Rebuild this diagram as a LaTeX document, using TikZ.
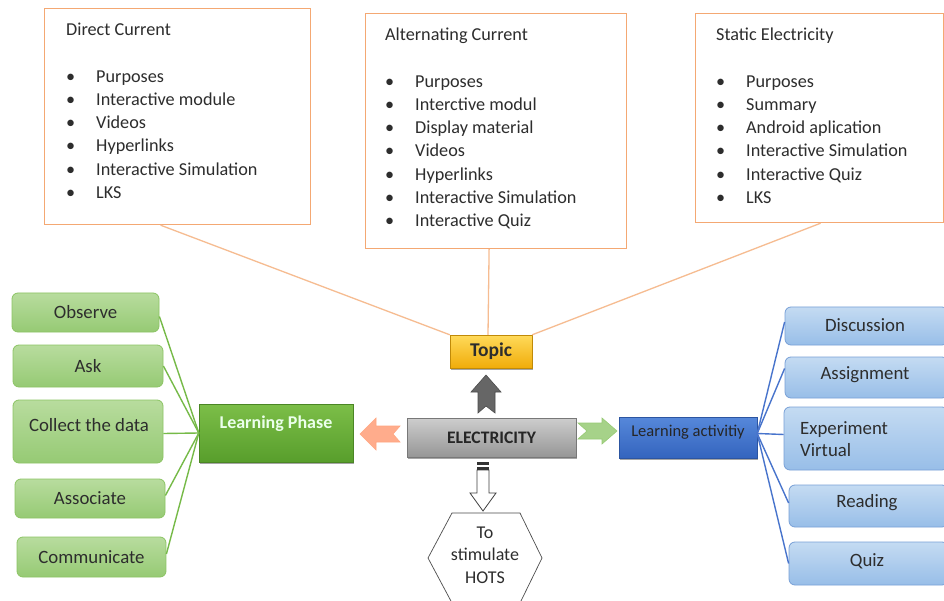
\documentclass[tikz,border=0pt]{standalone}
\usepackage{fontspec}
\setmainfont{Carlito}
\usetikzlibrary{shadows,calc}
\definecolor{txt}{RGB}{45,45,45}
\definecolor{obord}{RGB}{244,168,115}
\definecolor{oline}{RGB}{246,188,145}
\definecolor{gtop}{RGB}{184,220,158}
\definecolor{gbot}{RGB}{150,202,116}
\definecolor{gbord}{RGB}{140,196,100}
\definecolor{gline}{RGB}{118,186,72}
\definecolor{lptop}{RGB}{124,190,72}
\definecolor{lpbot}{RGB}{88,158,44}
\definecolor{btop}{RGB}{196,219,242}
\definecolor{bbot}{RGB}{152,190,232}
\definecolor{bbord}{RGB}{120,160,215}
\definecolor{bline}{RGB}{72,116,204}
\definecolor{latop}{RGB}{86,136,218}
\definecolor{labot}{RGB}{52,100,190}
\definecolor{tptop}{RGB}{255,218,90}
\definecolor{tpbot}{RGB}{240,172,10}
\definecolor{eltop}{RGB}{205,205,205}
\definecolor{elbot}{RGB}{150,150,150}
\newcommand{\bul}{\makebox[30pt][l]{\textbullet}}
\begin{document}
\begin{tikzpicture}[x=1pt,y=-1pt,
  topbox/.style={draw=obord, line width=1.2pt, fill=white, anchor=north west, inner sep=0pt},
  listtext/.style={anchor=north west, inner sep=0pt, text=txt, font=\fontsize{18.2}{23.2}\selectfont},
  gbox/.style={draw=gbord, line width=0.8pt, rounded corners=6pt, top color=gtop, bottom color=gbot, text=txt, font=\fontsize{18.8}{21}\selectfont, inner sep=0pt},
  bbox/.style={draw=bbord, line width=0.8pt, rounded corners=6pt, top color=btop, bottom color=bbot, text=txt, font=\fontsize{18.8}{21}\selectfont, inner sep=0pt},
  lbl/.style={inner sep=0pt, text=txt, font=\fontsize{18.8}{21}\selectfont},
  shad/.style={drop shadow={shadow xshift=1pt, shadow yshift=-2pt, opacity=0.35, fill=black}},
  oconn/.style={draw=oline, line width=1.3pt},
  gconn/.style={draw=gline, line width=1.4pt},
  bconn/.style={draw=bline, line width=1.4pt}
]
\clip (0,0) rectangle (944,601);
\fill[white] (0,0) rectangle (944,601);

% top boxes
\node[topbox, minimum width=266pt, minimum height=216pt] (dc) at (44,8) {};
\node[topbox, minimum width=261pt, minimum height=235pt] (ac) at (365,13) {};
\node[topbox, minimum width=248pt, minimum height=209pt] (se) at (695,13) {};

\node[listtext] (dcl) at (66,19.5) {\begin{tabular}{@{}l@{}}
Direct Current\\ \\
\bul Purposes\\
\bul Interactive module\\
\bul Videos\\
\bul Hyperlinks\\
\bul Interactive Simulation\\
\bul LKS
\end{tabular}};
\node[listtext] (acl) at (385,24.5) {\begin{tabular}{@{}l@{}}
Alternating Current\\ \\
\bul Purposes\\
\bul Interctive modul\\
\bul Display material\\
\bul Videos\\
\bul Hyperlinks\\
\bul Interactive Simulation\\
\bul Interactive Quiz
\end{tabular}};
\node[listtext] (sel) at (716,24.5) {\begin{tabular}{@{}l@{}}
Static Electricity\\ \\
\bul Purposes\\
\bul Summary\\
\bul Android aplication\\
\bul Interactive Simulation\\
\bul Interactive Quiz\\
\bul LKS
\end{tabular}};

% central nodes
\node[shad, draw=tpbot!80!black, line width=0.4pt, top color=tptop, bottom color=tpbot, minimum width=82pt, minimum height=33pt, inner sep=0pt, text=txt, font=\bfseries\fontsize{19.5}{22}\selectfont] (topic) at (491,351.5) {Topic};
\node[shad, draw=elbot!80!black, line width=0.4pt, top color=eltop, bottom color=elbot, minimum width=169pt, minimum height=39pt, inner sep=0pt, text=black!85, font=\bfseries\fontsize{17.6}{20}\selectfont] (elec) at (491.5,437.5) {ELECTRICITY};
\node[shad, draw=lpbot!85!black, line width=0.4pt, top color=lptop, bottom color=lpbot, minimum width=154pt, minimum height=58pt, inner sep=0pt] (lp) at (276,433) {};
\node[inner sep=0pt, text=white!92!green, font=\bfseries\fontsize{18}{20}\selectfont] (lpt) at (276,424) {Learning Phase};
\node[shad, draw=labot!85!black, line width=0.4pt, top color=latop, bottom color=labot, minimum width=138pt, minimum height=41pt, inner sep=0pt] (la) at (688,437.5) {};
\node[inner sep=0pt, text=black!85, font=\fontsize{16.5}{20}\selectfont] (lat) at (688,432) {Learning activitiy};

% connectors from top boxes
\draw[oconn] ([xshift=-17pt]dc.south) -- (topic.north west);
\draw[oconn] ([xshift=-7pt]ac.south) -- ([xshift=-3pt]topic.north);
\draw[oconn] ([xshift=1pt]se.south) -- (topic.north east);

% arrows
\fill[black!60, draw=black!70, line width=0.6pt] (486,375) -- (501,392) -- (495,392) -- (495,413) -- (486,406) -- (478,413) -- (478,392) -- (471,392) -- cycle;
\fill[orange!55!red!45!white, draw=orange!60!red!50!white, line width=0.6pt] (360,434) -- (376,418) -- (376,426) -- (400,426) -- (393,434) -- (400,442) -- (376,442) -- (376,450) -- cycle;
\fill[gbot!85!white, draw=gbord!90!white, line width=0.6pt] (617,431) -- (602,418) -- (602,423) -- (578,423) -- (587,431) -- (578,439) -- (602,439) -- (602,444) -- cycle;
\draw[black!75, fill=white, line width=0.8pt] (477,470) -- (489,470) -- (489,493) -- (496,493) -- (483,511) -- (470,493) -- (477,493) -- cycle;
\fill[black!80] (477,461.5) rectangle (489,464.5);
\fill[black!80] (477,466.5) rectangle (489,469.5);

% hexagon
\draw[black!70, line width=0.7pt] (452,513) -- (520,513) -- (542,558) -- (520,603) -- (452,603) -- (428,558) -- cycle;
\node[inner sep=0pt, align=center, text=txt, font=\fontsize{18}{22.5}\selectfont] (hots) at (485,555) {To\\stimulate\\HOTS};

% left green boxes
\node[gbox, minimum width=147pt, minimum height=39pt] (obs) at (85.5,312.5) {Observe};
\node[gbox, minimum width=150pt, minimum height=42pt] (ask) at (88,366) {Ask};
\node[gbox, minimum width=150pt, minimum height=63pt] (col) at (88,431.5) {};
\node[lbl] (colt) at (89,425) {Collect the data};
\node[gbox, minimum width=150pt, minimum height=39pt] (asc) at (90,498.5) {Associate};
\node[gbox, minimum width=149pt, minimum height=40pt] (com) at (91.5,557) {Communicate};

\draw[gconn] (lp.west) -- ([yshift=-4pt]obs.east);
\draw[gconn] (lp.west) -- (ask.east);
\draw[gconn] (lp.west) -- ([yshift=-2pt]col.east);
\draw[gconn] (lp.west) -- ([yshift=3pt]asc.east);
\draw[gconn] (lp.west) -- ([yshift=3pt]com.east);

% right blue boxes
\node[bbox, minimum width=163pt, minimum height=38pt] (dis) at (866.5,326) {};
\node[lbl] (dist) at (865,325) {Discussion};
\node[bbox, minimum width=163pt, minimum height=41pt] (asg) at (866.5,377.5) {};
\node[lbl] (asgt) at (865,375) {Assignment};
\node[bbox, minimum width=164pt, minimum height=63pt] (exp) at (866,438.5) {};
\node[lbl, anchor=west, align=left, font=\fontsize{18.8}{22}\selectfont] (expt) at (800,439) {Experiment\\Virtual};
\node[bbox, minimum width=159pt, minimum height=42pt] (rea) at (868.5,506) {};
\node[lbl] (reat) at (867,503) {Reading};
\node[bbox, minimum width=159pt, minimum height=43pt] (qui) at (868.5,563.5) {};
\node[lbl] (quit) at (867,561) {Quiz};

\coordinate (lae) at ([yshift=4pt]la.east);
\draw[bconn] (lae) -- ([yshift=4pt]dis.west);
\draw[bconn] (lae) -- ([yshift=9pt]asg.west);
\draw[bconn] (lae) -- ([yshift=4pt]exp.west);
\draw[bconn] (lae) -- ([yshift=3pt]rea.west);
\draw[bconn] (lae) -- (qui.west);
\end{tikzpicture}
\end{document}
